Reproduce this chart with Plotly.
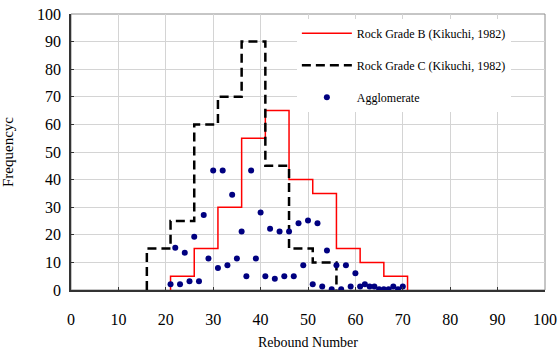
import plotly.graph_objects as go

# Rock Grade B (Kikuchi, 1982) histogram
edges_B = [21, 26, 31, 36, 41, 46, 51, 56, 61, 66, 71]
freq_B = [5, 15, 30, 55, 65, 40, 35, 15, 10, 5]

# Rock Grade C (Kikuchi, 1982) histogram
edges_C = [16, 21, 26, 31, 36, 41, 46, 51, 56]
freq_C = [15, 25, 60, 70, 90, 45, 15, 10]

# Agglomerate
agg_x = list(range(21, 71))
agg_y = [2.1, 15.3, 2.1, 13.5, 3.2, 19.3, 3.2, 27.2, 11.4, 43.3,
         8.0, 43.3, 9.0, 34.5, 11.4, 21.2, 5.0, 43.3, 11.4, 28.1,
         5.0, 22.2, 4.1, 21.2, 5.0, 21.2, 5.0, 24.2, 9.0, 25.2,
         2.1, 24.2, 1.3, 14.3, 0.3, 9.0, 0.3, 9.0, 1.3, 6.1,
         1.3, 2.1, 1.3, 1.3, 0.3, 0.3, 0.3, 1.3, 0.3, 1.3]

x_ticks = list(range(0, 101, 10))
y_ticks = list(range(0, 101, 10))


def step_xy(edges, freq):
    xs = [edges[0]] + list(edges)
    ys = [0] + list(freq) + [0]
    return xs, ys


FONT = "Liberation Serif"

fig = go.Figure()

bx, by = step_xy(edges_B, freq_B)
fig.add_trace(go.Scatter(
    x=bx, y=by, mode="lines", line=dict(color="#ff0000", width=1.5, shape="hv"),
    name="Rock Grade B (Kikuchi, 1982)", legendgroup="b"))

cx, cy = step_xy(edges_C, freq_C)
fig.add_trace(go.Scatter(
    x=cx, y=cy, mode="lines",
    line=dict(color="#000000", width=2.5, shape="hv", dash="9px,5px"),
    name="Rock Grade C (Kikuchi, 1982)", legendgroup="c"))

fig.add_trace(go.Scatter(
    x=agg_x, y=agg_y, mode="markers",
    marker=dict(color="#000080", size=6),
    name="Agglomerate", legendgroup="a"))

fig.add_shape(type="rect", xref="paper", yref="paper", x0=0, x1=1, y0=0, y1=1,
              line=dict(color="#8c8c8c", width=1), layer="below")

fig.update_layout(
    width=560, height=352,
    margin=dict(l=71, r=15, t=14, b=62),
    paper_bgcolor="white", plot_bgcolor="white",
    font=dict(family=FONT, color="#000000", size=14),
    showlegend=True,
    legend=dict(
        x=0.4765, y=0.983, xanchor="left", yanchor="top",
        bgcolor="white", borderwidth=0,
        font=dict(family=FONT, size=12, color="#000000"),
        traceorder="grouped", tracegroupgap=13,
        itemwidth=50,
    ),
    xaxis=dict(
        range=[0, 100], tickvals=x_ticks, ticktext=[str(v) for v in x_ticks],
        showgrid=True, gridcolor="#d4d4d4", gridwidth=1,
        showline=True, linecolor="#333333", linewidth=1.5,
        ticks="inside", ticklen=3, tickcolor="#333333",
        tickfont=dict(size=16, family=FONT),
        ticklabelstandoff=14,
        title=dict(text="Rebound Number", font=dict(size=14, family=FONT), standoff=10),
        zeroline=False, automargin=False,
    ),
    yaxis=dict(
        range=[0, 100], tickvals=y_ticks, ticktext=[str(v) for v in y_ticks],
        showgrid=True, gridcolor="#d4d4d4", gridwidth=1,
        showline=True, linecolor="#333333", linewidth=1.5,
        ticks="inside", ticklen=3, tickcolor="#333333",
        tickfont=dict(size=16, family=FONT),
        ticklabelstandoff=5,
        title=dict(text="Frequencyc", font=dict(size=15, family=FONT), standoff=20),
        zeroline=False, automargin=False,
    ),
)

fig.write_html("out.html")
